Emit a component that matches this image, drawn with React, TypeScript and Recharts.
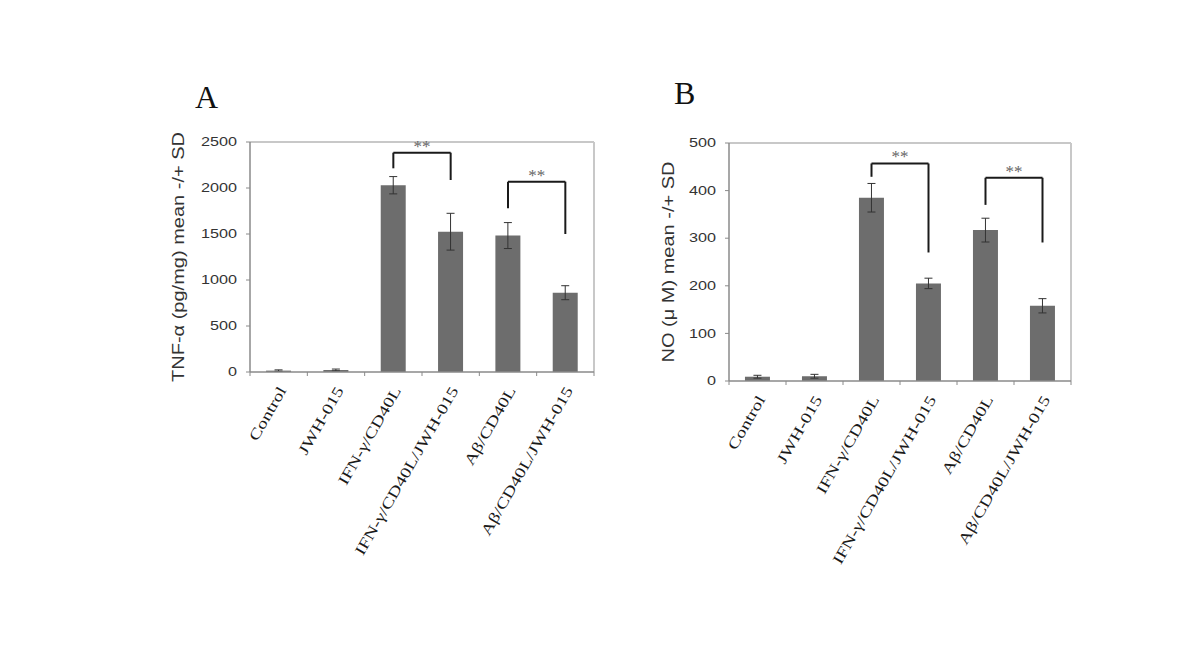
import { BarChart, Bar, XAxis, YAxis, ErrorBar, ReferenceLine, CartesianGrid } from 'recharts';

const categories = ['Control', 'JWH-015', 'IFN-γ/CD40L', 'IFN-γ/CD40L/JWH-015', 'Aβ/CD40L', 'Aβ/CD40L/JWH-015'];

const tnfMean = [15, 22, 2030, 1525, 1483, 862];
const tnfSd = [8, 10, 94, 200, 141, 76];
const tnfTicks = [0, 500, 1000, 1500, 2000, 2500];
const tnfBrackets = [
  { from: 2, to: 3, top: 2384, fromEnd: 2214, toEnd: 2087 },
  { from: 4, to: 5, top: 2069, fromEnd: 1779, toEnd: 1500 },
];

const noMean = [9, 10, 385, 205, 317, 158];
const noSd = [3, 4, 30, 11, 25, 15];
const noTicks = [0, 100, 200, 300, 400, 500];
const noBrackets = [
  { from: 2, to: 3, top: 457, fromEnd: 429, toEnd: 270 },
  { from: 4, to: 5, top: 427, fromEnd: 370, toEnd: 291 },
];

const tnfData = categories.map((name, i) => ({ name, mean: tnfMean[i], sd: tnfSd[i] }));
const noData = categories.map((name, i) => ({ name, mean: noMean[i], sd: noSd[i] }));

const AXIS = '#8a8a8a';
const FRAME = '#c8c8c8';

const YTick = ({ x, y, payload }: any) => (
  <text
    x={0}
    y={0}
    transform={`translate(${x},${y}) scale(1.35,1)`}
    textAnchor="end"
    dominantBaseline="central"
    fontFamily="'Liberation Sans', Arial, sans-serif"
    fontSize={12}
    fill="#333"
  >
    {payload.value}
  </text>
);

// category label plus the small tick marks on the band edges
const CatTick = ({ x, y, payload, index }: any) => {
  const half = payload.offset || 0;
  return (
    <g>
      <line x1={x - half} x2={x - half} y1={y} y2={y + 4} stroke={AXIS} />
      {index === categories.length - 1 && (
        <line x1={x + half} x2={x + half} y1={y} y2={y + 4} stroke={AXIS} />
      )}
      <g transform={`translate(${x + 4},${y + 16})`}>
        <text
          x={0}
          y={0}
          transform="rotate(-60) scale(1.3,1)"
          textAnchor="end"
          dominantBaseline="central"
          fontFamily="'Liberation Serif', 'Times New Roman', serif"
          fontSize={15}
          fill="#1a1a1a"
        >
          {payload.value}
        </text>
      </g>
    </g>
  );
};

const YLabel = ({ viewBox, value, shift }: any) => (
  <text
    x={0}
    y={0}
    transform={`translate(${viewBox.x + shift},${viewBox.y + viewBox.height / 2}) rotate(-90) scale(1.25,1)`}
    textAnchor="middle"
    dominantBaseline="central"
    fontFamily="'Liberation Sans', Arial, sans-serif"
    fontSize={16}
    fill="#333"
  >
    {value}
  </text>
);

type Bracket = { from: number; to: number; top: number; fromEnd: number; toEnd: number };

const bracketLines = (brackets: Bracket[]) =>
  brackets.flatMap((b, i) => [
    <ReferenceLine
      key={`h${i}`}
      segment={[{ x: categories[b.from], y: b.top }, { x: categories[b.to], y: b.top }]}
      stroke="#1a1a1a"
      strokeWidth={2}
      ifOverflow="visible"
      label={{ value: '**', position: 'top', offset: 1, fontSize: 17, fill: '#666' }}
    />,
    <ReferenceLine
      key={`l${i}`}
      segment={[{ x: categories[b.from], y: b.top }, { x: categories[b.from], y: b.fromEnd }]}
      stroke="#1a1a1a"
      strokeWidth={2}
      ifOverflow="visible"
    />,
    <ReferenceLine
      key={`r${i}`}
      segment={[{ x: categories[b.to], y: b.top }, { x: categories[b.to], y: b.toEnd }]}
      stroke="#1a1a1a"
      strokeWidth={2}
      ifOverflow="visible"
    />,
  ]);

type PanelProps = {
  data: { name: string; mean: number; sd: number }[];
  ticks: number[];
  max: number;
  brackets: Bracket[];
  yLabel: string;
  labelShift: number;
  margin: { top: number; right: number; left: number; bottom: number };
};

const Panel = ({ data, ticks, max, brackets, yLabel, labelShift, margin }: PanelProps) => (
  <BarChart width={600} height={645} data={data} margin={margin} barCategoryGap="28%">
    <CartesianGrid
      stroke={FRAME}
      strokeWidth={2}
      horizontalCoordinatesGenerator={({ offset }: any) => [offset.top]}
      verticalCoordinatesGenerator={({ offset }: any) => [offset.left + offset.width]}
    />
    <XAxis
      dataKey="name"
      interval={0}
      tick={<CatTick />}
      tickLine={false}
      tickSize={0}
      tickMargin={0}
      axisLine={{ stroke: AXIS, strokeWidth: 1.5 }}
      height={200}
    />
    <YAxis
      domain={[0, max]}
      ticks={ticks}
      tick={<YTick />}
      tickSize={4}
      tickMargin={9}
      tickLine={{ stroke: AXIS }}
      axisLine={{ stroke: AXIS, strokeWidth: 1.5 }}
      width={80}
      label={<YLabel value={yLabel} shift={labelShift} />}
    />
    <Bar dataKey="mean" fill="#6d6d6d" isAnimationActive={false}>
      <ErrorBar dataKey="sd" width={4} stroke="#333" strokeWidth={1} />
    </Bar>
    {bracketLines(brackets)}
  </BarChart>
);

const letterStyle = {
  position: 'absolute' as const,
  fontFamily: "'Liberation Serif', 'Times New Roman', serif",
  fontSize: 32,
  lineHeight: '32px',
  color: '#111',
};

export default function App() {
  return (
    <div style={{ position: 'absolute', left: 0, top: 0, width: 1200, height: 645, background: '#fff' }}>
      <div style={{ position: 'absolute', left: 0, top: 0 }}>
        <Panel
          data={tnfData}
          ticks={tnfTicks}
          max={2500}
          brackets={tnfBrackets}
          yLabel="TNF-α (pg/mg) mean -/+ SD"
          labelShift={9}
          margin={{ top: 142, right: 6, left: 170, bottom: 73 }}
        />
      </div>
      <div style={{ position: 'absolute', left: 600, top: 0 }}>
        <Panel
          data={noData}
          ticks={noTicks}
          max={500}
          brackets={noBrackets}
          yLabel="NO (μ M) mean -/+ SD"
          labelShift={20}
          margin={{ top: 143, right: 129, left: 49, bottom: 64 }}
        />
      </div>
      <div style={{ ...letterStyle, left: 195, top: 81 }}>A</div>
      <div style={{ ...letterStyle, left: 674, top: 77 }}>B</div>
    </div>
  );
}
